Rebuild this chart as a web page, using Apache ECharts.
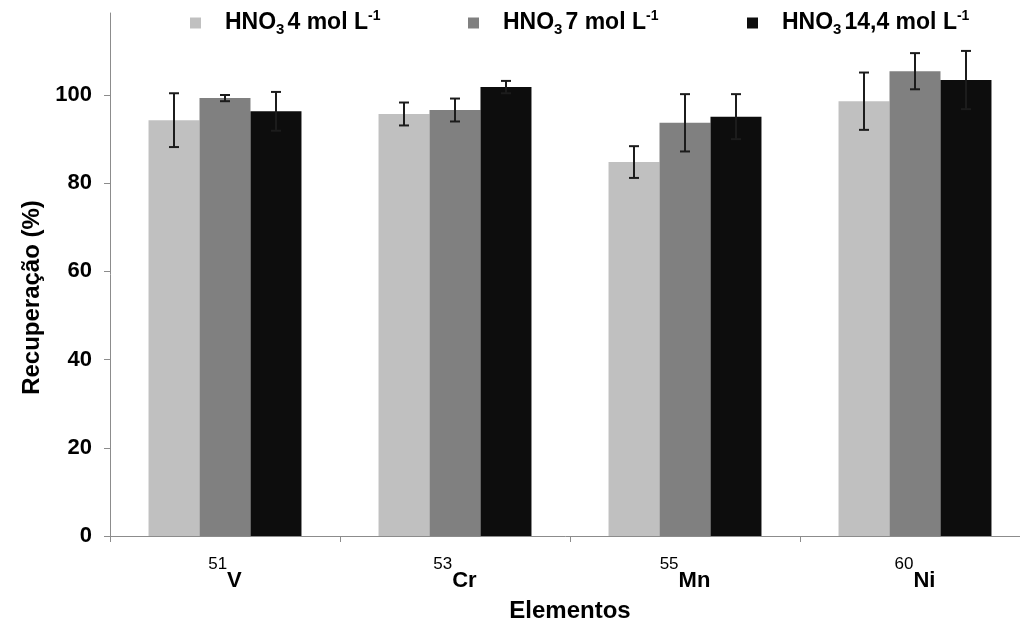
<!DOCTYPE html>
<html>
<head>
<meta charset="utf-8">
<script src="https://cdn.jsdelivr.net/npm/echarts@6/dist/echarts.min.js"></script>
<style>
  html, body { margin: 0; padding: 0; background: #ffffff; }
  #chart { width: 1020px; height: 630px; }
</style>
</head>
<body>
<div id="chart"></div>
<script>
// Elements and their isotopes on the category axis
const elements = ['V', 'Cr', 'Mn', 'Ni'];
const isotopes = ['51', '53', '55', '60'];

// Recovery (%) and standard deviation for each HNO3 concentration
const rec4 = [94.3, 95.7, 84.8, 98.6];
const sd4 = [6.1, 2.6, 3.6, 6.5];
const rec7 = [99.3, 96.6, 93.7, 105.4];
const sd7 = [0.7, 2.6, 6.5, 4.1];
const rec14 = [96.3, 101.8, 95.1, 103.4];
const sd14 = [4.4, 1.4, 5.1, 6.6];

// Concentration labels used in the legend
const concentrations = ['4', '7', '14,4'];
const yTicks = [0, 20, 40, 60, 80, 100];

const colors = ['#c0c0c0', '#808080', '#0d0d0d'];
const seriesNames = concentrations.map(c => 'HNO3 ' + c + ' mol L-1');
const recs = [rec4, rec7, rec14];
const sds = [sd4, sd7, sd14];

const FONT = '"Liberation Sans", Arial, sans-serif';
const CAT_GAP = 0.335;

const chart = echarts.init(document.getElementById('chart'), null, { renderer: 'canvas' });

const legendRich = {
  sp: { width: 19 },
  m: { fontFamily: FONT, fontWeight: 'bold', fontSize: 23, color: '#000', verticalAlign: 'middle', lineHeight: 28 },
  sub: { fontFamily: FONT, fontWeight: 'bold', fontSize: 15, color: '#000', verticalAlign: 'bottom', lineHeight: 28, padding: [0, 3, 0, 0] },
  sup: { fontFamily: FONT, fontWeight: 'bold', fontSize: 14, color: '#000', verticalAlign: 'top', lineHeight: 28 }
};

function legendFor(i, left) {
  return {
    data: [seriesNames[i]],
    left: left,
    top: 9,
    itemWidth: 11,
    itemHeight: 11,
    icon: 'rect',
    padding: 0,
    selectedMode: false,
    formatter: () => '{sp|}{m|HNO}{sub|3}{m|' + concentrations[i] + ' mol L}{sup|-1}',
    textStyle: { rich: legendRich }
  };
}

const barSeries = recs.map((r, i) => ({
  name: seriesNames[i],
  type: 'bar',
  data: r,
  barGap: '0%',
  barCategoryGap: (CAT_GAP * 100) + '%',
  itemStyle: { color: colors[i] },
  z: 2
}));

const errorSeries = recs.map((r, i) => ({
  type: 'custom',
  name: seriesNames[i] + ' sd',
  data: r.map((v, k) => [k, v - sds[i][k], v + sds[i][k]]),
  z: 5,
  silent: true,
  renderItem: function (params, api) {
    const k = api.value(0);
    const band = api.size([1, 0])[0];
    const barW = band * (1 - CAT_GAP) / 3;
    const lo = api.coord([k, api.value(1)]);
    const hi = api.coord([k, api.value(2)]);
    const x = lo[0] + (i - 1) * barW;
    const cap = 5;
    const style = { stroke: '#1c1c1c', lineWidth: 2 };
    return {
      type: 'group',
      children: [
        { type: 'line', shape: { x1: x, y1: hi[1], x2: x, y2: lo[1] }, style: style },
        { type: 'line', shape: { x1: x - cap, y1: hi[1], x2: x + cap, y2: hi[1] }, style: style },
        { type: 'line', shape: { x1: x - cap, y1: lo[1], x2: x + cap, y2: lo[1] }, style: style }
      ]
    };
  }
}));

const option = {
  animation: false,
  backgroundColor: '#ffffff',
  legend: [
    legendFor(0, 190),
    legendFor(1, 468),
    legendFor(2, 747)
  ],
  grid: { left: 110, top: 13, right: -10, bottom: 94, outerBoundsMode: 'none', containLabel: false },
  xAxis: {
    type: 'category',
    data: elements,
    name: 'Elementos',
    nameLocation: 'middle',
    nameGap: 63,
    nameTextStyle: { fontFamily: FONT, fontWeight: 'bold', fontSize: 24, color: '#000' },
    axisLine: { lineStyle: { color: '#8c8c8c', width: 1 } },
    axisTick: { show: true, alignWithLabel: false, length: 6, lineStyle: { color: '#8c8c8c' } },
    axisLabel: {
      margin: 20,
      interval: 0,
      formatter: (v, idx) => '{sup|' + isotopes[idx] + '}{el|' + v + '}',
      rich: {
        sup: { fontFamily: FONT, fontSize: 17, color: '#000', verticalAlign: 'top', lineHeight: 36 },
        el: { fontFamily: FONT, fontWeight: 'bold', fontSize: 22, color: '#000', verticalAlign: 'bottom', lineHeight: 36 }
      }
    },
    splitLine: { show: false }
  },
  yAxis: {
    type: 'value',
    min: 0,
    max: 118.6,
    interval: 20,
    name: 'Recuperação (%)',
    nameLocation: 'middle',
    nameGap: 64,
    nameTextStyle: { fontFamily: FONT, fontWeight: 'bold', fontSize: 24, color: '#000', padding: [0, 46, 0, 0] },
    axisLine: { show: true, lineStyle: { color: '#8c8c8c', width: 1 } },
    axisTick: { show: true, length: 6, customValues: yTicks, lineStyle: { color: '#8c8c8c' } },
    axisLabel: {
      customValues: yTicks,
      margin: 18,
      fontFamily: FONT,
      fontWeight: 'bold',
      fontSize: 22,
      color: '#000'
    },
    splitLine: { show: false }
  },
  series: barSeries.concat(errorSeries)
};

chart.setOption(option);
</script>
</body>
</html>
